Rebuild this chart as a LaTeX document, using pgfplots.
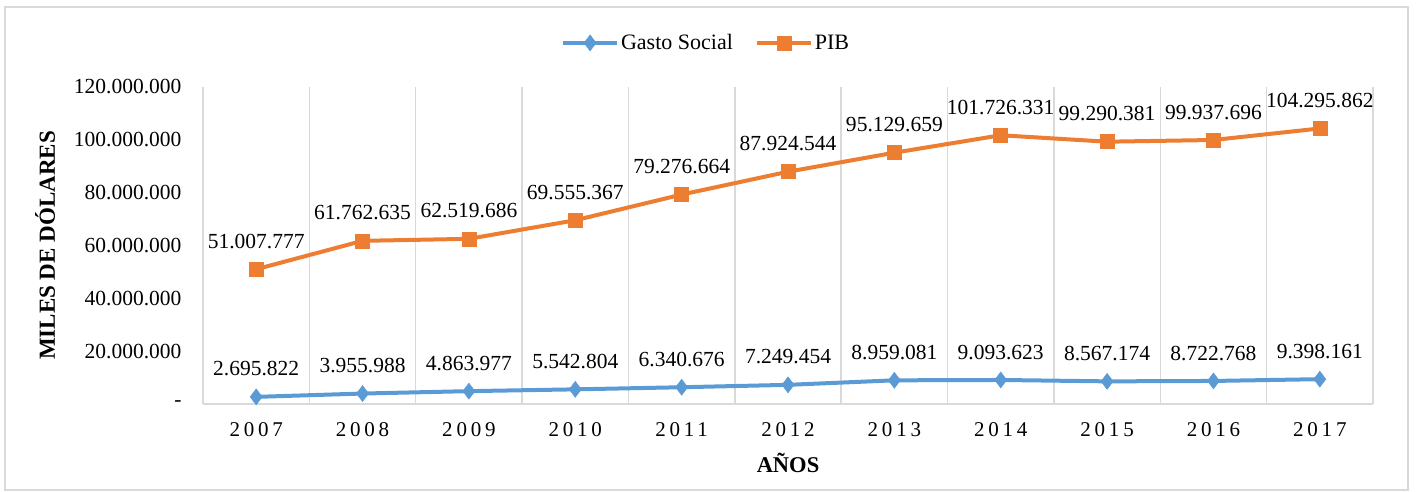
\documentclass[border=0pt]{standalone}
\usepackage{pgfplots}
\pgfplotsset{compat=1.18}
\usepackage{pgfplotstable}
\usepackage{fontspec}
\setmainfont{Liberation Serif}
\newfontfamily\spaced[LetterSpace=18]{Liberation Serif}
\definecolor{gsblue}{HTML}{5B9BD5}
\definecolor{piborange}{HTML}{ED7D31}
\definecolor{gridgray}{HTML}{D9D9D9}

\pgfplotstableread{
x y label
0 2695822 2.695.822
1 3955988 3.955.988
2 4863977 4.863.977
3 5542804 5.542.804
4 6340676 6.340.676
5 7249454 7.249.454
6 8959081 8.959.081
7 9093623 9.093.623
8 8567174 8.567.174
9 8722768 8.722.768
10 9398161 9.398.161
}\gasto

\pgfplotstableread{
x y label
0 51007777 51.007.777
1 61762635 61.762.635
2 62519686 62.519.686
3 69555367 69.555.367
4 79276664 79.276.664
5 87924544 87.924.544
6 95129659 95.129.659
7 101726331 101.726.331
8 99290381 99.290.381
9 99937696 99.937.696
10 104295862 104.295.862
}\pib

\begin{document}
\begin{tikzpicture}[x=1bp,y=1bp]
\useasboundingbox (0,0) rectangle (1416,492);
\draw[gridgray, line width=1.5bp] (5,2) rectangle (1408,485);
\begin{axis}[
  at={(203bp,88bp)}, anchor=south west,
  scale only axis, width=1170bp, height=317bp,
  xmin=-0.5, xmax=10.5, ymin=0, ymax=120000000,
  clip=false,
  xtick={0,...,10},
  xticklabels={2007,2008,2009,2010,2011,2012,2013,2014,2015,2016,2017},
  minor xtick={-0.5,0.5,...,10.5},
  xminorgrids=true,
  minor grid style={gridgray, line width=1.5bp},
  major tick length=0pt, minor tick length=0pt,
  ytick={0,20000000,40000000,60000000,80000000,100000000,120000000},
  yticklabels={-,20.000.000,40.000.000,60.000.000,80.000.000,100.000.000,120.000.000},
  scaled y ticks=false,
  axis x line*=bottom, axis y line*=left,
  x axis line style={gridgray, line width=1.5bp, -},
  y axis line style={draw=none},
  yticklabel style={font=\fontsize{21.5bp}{25bp}\selectfont, xshift=-18bp},
  xticklabel style={font=\spaced\fontsize{21bp}{25bp}\selectfont, anchor=center, yshift=-26bp},
  xlabel={\textbf{AÑOS}},
  ylabel={\textbf{MILES DE DÓLARES}},
  xlabel style={font=\fontsize{22.5bp}{26bp}\selectfont, at={(axis description cs:0.5,-0.186)}, anchor=center},
  ylabel style={font=\fontsize{23bp}{27bp}\selectfont, at={(axis description cs:-0.135,0.5)}, anchor=center, rotate=0},
  legend style={at={(axis description cs:0.43,1.139)}, anchor=center, draw=none, fill=none,
    legend columns=2, font=\fontsize{22bp}{26bp}\selectfont,
    /tikz/every even column/.append style={column sep=20bp}},
  legend image code/.code={\draw[mark repeat=2,mark phase=2] plot coordinates {(0bp,0bp)(27bp,0bp)(54bp,0bp)};},
  nodes near coords, point meta=explicit symbolic,
  nodes near coords style={font=\fontsize{21.5bp}{25bp}\selectfont, anchor=south, yshift=17bp, text=black},
]
\addplot[gsblue, line width=4bp, mark=diamond*, mark size=8bp, mark options={fill=gsblue, line width=0.5bp}] table[x=x, y=y, meta=label] {\gasto};
\addlegendentry{Gasto Social}
\addplot[piborange, line width=4bp, mark=square*, mark size=7bp, mark options={fill=piborange, line width=0.5bp}] table[x=x, y=y, meta=label] {\pib};
\addlegendentry{PIB}
\end{axis}
\end{tikzpicture}
\end{document}
